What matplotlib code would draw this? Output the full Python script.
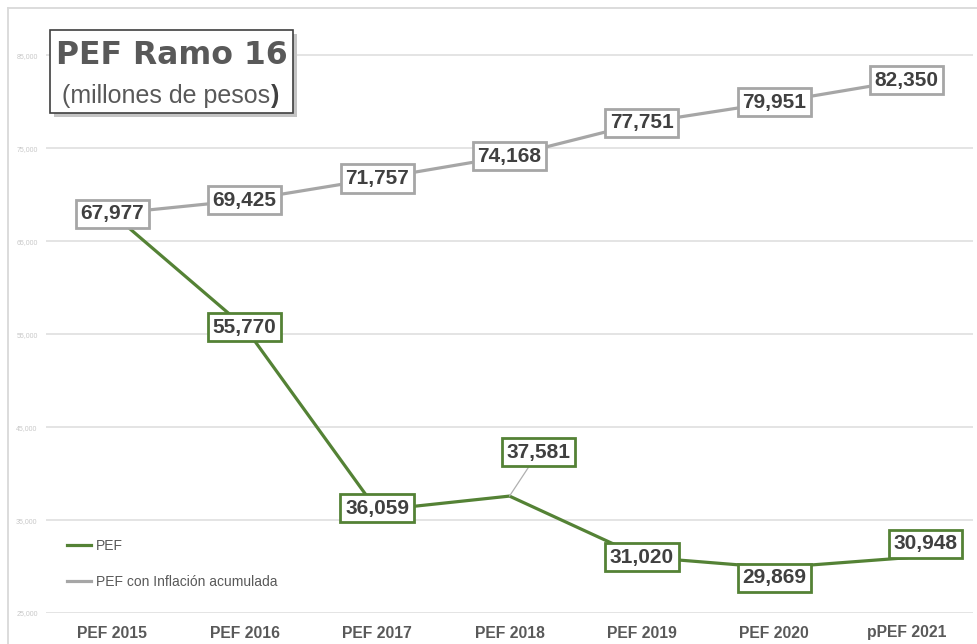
import matplotlib
matplotlib.use("Agg")
import matplotlib.pyplot as plt
from matplotlib.patches import Rectangle
from matplotlib.lines import Line2D

categories = ["PEF 2015", "PEF 2016", "PEF 2017", "PEF 2018", "PEF 2019", "PEF 2020", "pPEF 2021"]
pef = [67977, 55770, 36059, 37581, 31020, 29869, 30948]
pef_inflacion = [67977, 69425, 71757, 74168, 77751, 79951, 82350]
y_ticks = [25000, 35000, 45000, 55000, 65000, 75000, 85000]

GREEN = "#548235"
GRAY = "#a6a6a6"
TXT = "#404040"

plt.rcParams['font.family'] = ['Liberation Sans', 'DejaVu Sans']

fig = plt.figure(figsize=(9.77, 6.44), dpi=100)
W, H = 977, 644
ax = fig.add_axes([46 / W, 1 - 613 / H, (973 - 46) / W, (613 - 9) / H])

x = list(range(len(categories)))
ax.plot(x, pef_inflacion, color=GRAY, lw=2.3, label="PEF con Inflación acumulada", zorder=3)
ax.plot(x, pef, color=GREEN, lw=2.3, label="PEF", zorder=4)

ax.set_xlim(-0.5, len(categories) - 0.5)
ax.set_ylim(25000, 90000)
ax.set_yticks(y_ticks)
ax.set_yticklabels([f"{v:,}" for v in y_ticks], fontsize=5, color="#c8c8c8")
ax.set_xticks(x)
ax.set_xticklabels(categories, fontsize=11.3, fontweight="bold", color="#595959")
ax.tick_params(axis="both", length=0)
ax.tick_params(axis="y", pad=6)
ax.tick_params(axis="x", pad=9)
ax.grid(axis="y", color="#dcdcdc", lw=1.1)
ax.set_axisbelow(True)
for s in ax.spines.values():
    s.set_visible(False)

def label(xi, yi, text, edge, dx=0, dy=0, leader=False):
    kw = {}
    if leader:
        kw["arrowprops"] = dict(arrowstyle="-", color="#b0b0b0", lw=0.9, shrinkA=0, shrinkB=0)
    ax.annotate(text, (xi, yi), xytext=(dx, dy), textcoords="offset pixels",
                ha="center", va="center", fontsize=15, fontweight="bold", color=TXT,
                bbox=dict(boxstyle="square,pad=0.22", fc="white", ec=edge, lw=2.0),
                zorder=6, **kw)

# gray series labels
for i, v in enumerate(pef_inflacion):
    label(i, v, f"{v:,}", GRAY)

# green series labels (first point shared)
green_offsets = {1: (0, 0), 2: (0, 2), 3: (29, 44), 4: (0, 0), 5: (0, -10), 6: (19, 14)}
for i, v in enumerate(pef):
    if i == 0:
        continue
    dx, dy = green_offsets[i]
    label(i, v, f"{v:,}", GREEN, dx, dy, leader=(i == 3))

leg = ax.legend(handles=[Line2D([], [], color=GREEN, lw=2.3, label="PEF"),
                         Line2D([], [], color=GRAY, lw=2.3, label="PEF con Inflación acumulada")],
                loc="upper left", bbox_to_anchor=(0.0227, 0.122), frameon=False,
                fontsize=10, labelcolor="#595959", borderpad=0, borderaxespad=0,
                labelspacing=1.55, handlelength=1.7, handletextpad=0.4)

# title box with shadow
tx0, ty0, tx1, ty1 = 50, 30, 293, 113
fig.patches.append(Rectangle(((tx0 + 4) / W, 1 - (ty1 + 4) / H), (tx1 - tx0) / W, (ty1 - ty0) / H,
                             transform=fig.transFigure, fc="#c4c4c4", ec="none", zorder=8))
fig.patches.append(Rectangle((tx0 / W, 1 - ty1 / H), (tx1 - tx0) / W, (ty1 - ty0) / H,
                             transform=fig.transFigure, fc="white", ec="#404040", lw=1.2, zorder=9))
fig.text((tx0 + tx1) / 2 / W, 1 - 56 / H, "PEF Ramo 16", ha="center", va="center",
         fontsize=22.7, fontweight="bold", color="#595959", family="DejaVu Sans", zorder=10)
t1 = fig.text(62 / W, 1 - 96 / H, "(millones de pesos", ha="left", va="center",
              fontsize=18, color="#595959", zorder=10)
fig.canvas.draw()
bb = t1.get_window_extent()
fig.text(bb.x1 / W + 0.5 / W, 1 - 96 / H, ")", ha="left", va="center",
         fontsize=18, fontweight="bold", color="#404040", zorder=10)

# outer chart frame
fig.lines.append(Line2D([8 / W, 8 / W], [0, 1 - 8 / H], transform=fig.transFigure, color="#d9d9d9", lw=1.3))
fig.lines.append(Line2D([8 / W, 1], [1 - 8 / H, 1 - 8 / H], transform=fig.transFigure, color="#d9d9d9", lw=1.3))

fig.savefig("out.png", dpi=100)
